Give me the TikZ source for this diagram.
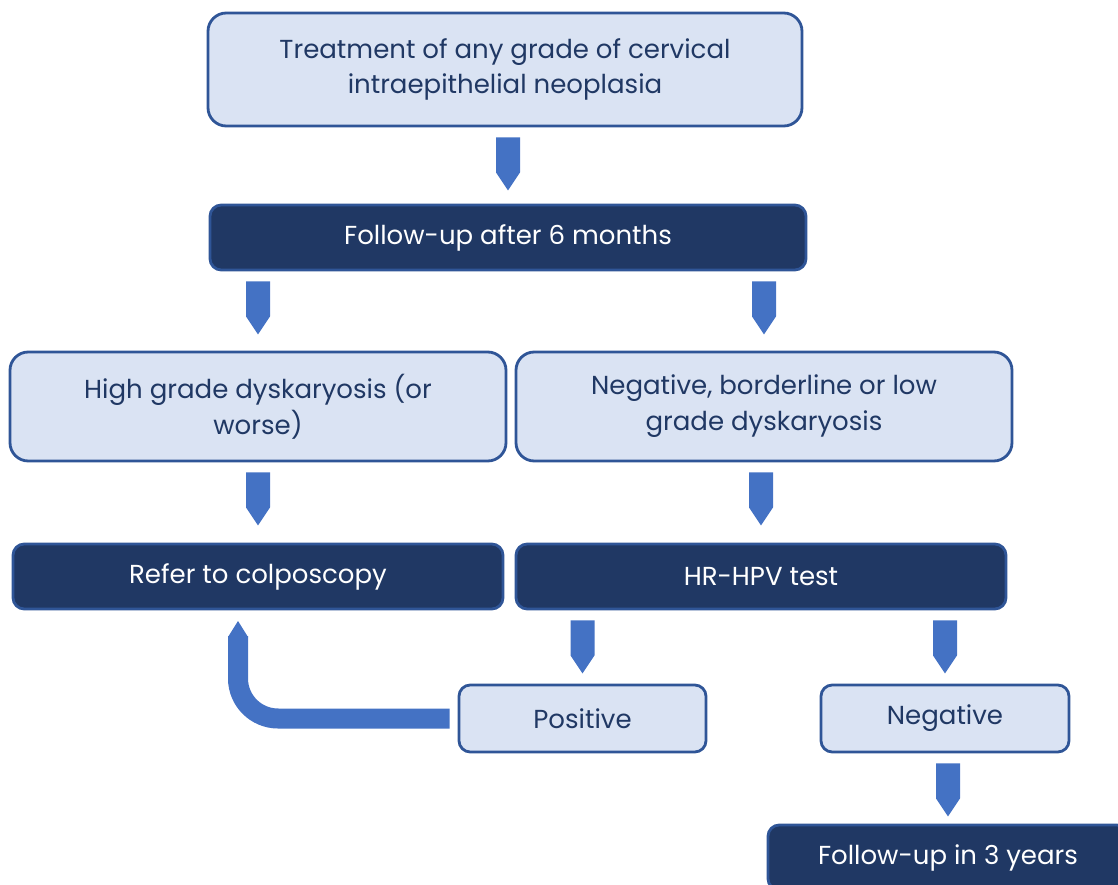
\documentclass[tikz,border=0pt]{standalone}
\usepackage{fontspec}
\setmainfont{Poppins}
\usetikzlibrary{calc}

\definecolor{boxfill}{HTML}{DAE3F3}
\definecolor{boxedge}{HTML}{2F5597}
\definecolor{boxtext}{HTML}{203864}
\definecolor{darkfill}{HTML}{203864}
\definecolor{arrowblue}{HTML}{4472C4}

\begin{document}
\begin{tikzpicture}[
    x=0.025cm, y=-0.025cm,
    every node/.style={font=\fontsize{18.5}{25.5}\selectfont, align=center},
    sz/.style 2 args={minimum width=#1*0.025cm, minimum height=#2*0.025cm, inner sep=0pt},
    lightbox/.style={draw=boxedge, fill=boxfill, text=boxtext, line width=2pt, rounded corners=13pt},
    smallbox/.style={draw=boxedge, fill=boxfill, text=boxtext, line width=2pt, rounded corners=8pt},
    darkbox/.style={draw=boxedge, fill=darkfill, text=white, line width=2pt, rounded corners=8pt},
    flow/.style={fill=arrowblue},
    bentflow/.style={draw=arrowblue, line width=0.5cm, rounded corners=1cm},
]

% ---- 画布 ----
\useasboundingbox (0,0) rectangle (1118,885);
\clip (0,0) rectangle (1118,885);

% ---- 箭头宏 ----
\def\flowarrow#1#2{%
    \fill[flow] ($(#2.north |- #1.south)+(-12,10)$) -- ++(24,0) -- ++(0,35)
        -- ++(-12,18) -- ++(-12,-18) -- cycle;}

% ---- 方框 ----
\node[lightbox, sz={594}{113}] (treat)  at (505, 69.5)  {Treatment of any grade of cervical\\intraepithelial neoplasia};
\node[darkbox,  sz={596}{65}]  (fup6)   at (508, 237.5) {Follow-up after 6 months};
\node[lightbox, sz={496}{109}] (high)   at (258, 406.5) {High grade dyskaryosis (or\\worse)};
\node[lightbox, sz={496}{109}] (low)    at (764, 406.5) {Negative, borderline or low\\grade dyskaryosis};
\node[darkbox,  sz={490}{65}]  (colpo)  at (258, 576.5) {Refer to colposcopy};
\node[darkbox,  sz={490}{65}]  (hpv)    at (761, 576.5) {HR-HPV test};
\node[smallbox, sz={247}{67}]  (pos)    at (582.5, 718.5) {Positive};
\node[smallbox, sz={248}{67}]  (neg)    at (945, 718.5) {Negative};
\node[darkbox,  sz={360}{65}]  (fup3)   at (948, 857.5) {Follow-up in 3 years};

% ---- 箭头 ----
\flowarrow{treat}{fup6}
\flowarrow{fup6}{high}
\flowarrow{fup6}{low}
\flowarrow{high}{colpo}
\flowarrow{low}{hpv}
\flowarrow{hpv}{pos}
\flowarrow{hpv}{neg}
\flowarrow{neg}{fup3}

% ---- 回转箭头 ----
\coordinate (bendtop) at (238, 636);
\draw[bentflow] ($(pos.west)+(-8,0)$) -| (bendtop);
\fill[flow] ($(bendtop)+(-10,1)$) -- ++(20,0) -- ++(-10,-16) -- cycle;

\end{tikzpicture}
\end{document}
